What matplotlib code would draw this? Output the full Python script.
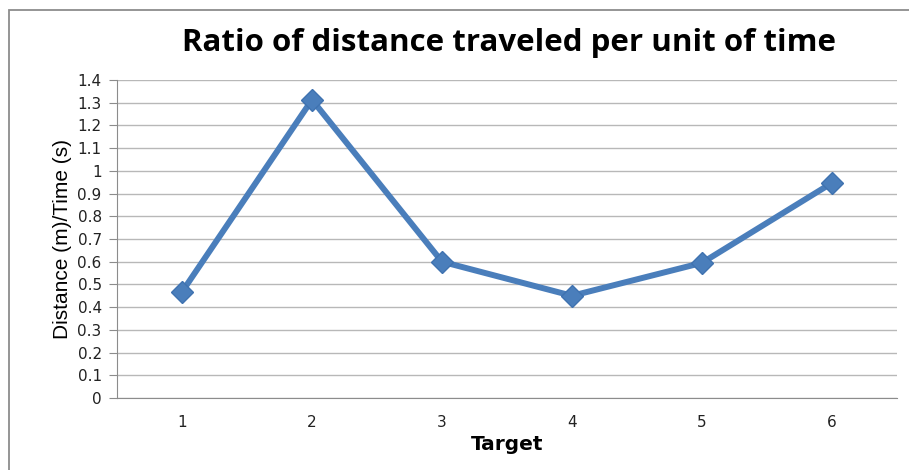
import matplotlib
matplotlib.use("Agg")
import matplotlib.pyplot as plt
from matplotlib.patches import Rectangle

targets = ["1", "2", "3", "4", "5", "6"]
ratio = [0.467, 1.313, 0.60, 0.45, 0.595, 0.947]
yticks = [0, 0.1, 0.2, 0.3, 0.4, 0.5, 0.6, 0.7, 0.8, 0.9, 1, 1.1, 1.2, 1.3, 1.4]
ytick_labels = ["0", "0.1", "0.2", "0.3", "0.4", "0.5", "0.6", "0.7", "0.8",
                "0.9", "1", "1.1", "1.2", "1.3", "1.4"]

W, H = 909, 470
fig = plt.figure(figsize=(W / 100, H / 100), dpi=100)

# chart area border (runs off the right and bottom edges)
fig.add_artist(Rectangle((9 / W, -0.1), 1.2, 1 - 10 / H + 0.1,
                         transform=fig.transFigure, fill=False,
                         edgecolor="#8c8c8c", linewidth=1.3))

ax = fig.add_axes([117 / W, 1 - 398 / H, 780 / W, 318 / H])

x = list(range(len(targets)))
ax.plot(x, ratio, color="#4a7ebb", linewidth=4.3, marker="D",
        markersize=11, markerfacecolor="#4a7ebb", markeredgecolor="#3f72b0",
        solid_joinstyle="miter", zorder=3)

ax.set_xlim(-0.5, len(targets) - 0.5)
ax.set_ylim(0, 1.4)
ax.set_yticks(yticks)
ax.set_yticklabels(ytick_labels)
ax.set_xticks(x)
ax.set_xticklabels(targets)

ax.yaxis.grid(True, color="#b8b8b8", linewidth=1.0)
ax.set_axisbelow(True)
for side in ["top", "right"]:
    ax.spines[side].set_visible(False)
ax.spines["left"].set_color("#8c8c8c")
ax.spines["bottom"].set_color("#8c8c8c")
ax.tick_params(axis="y", direction="out", length=6, color="#8c8c8c",
               labelsize=11, labelcolor="#222222", pad=5)
ax.tick_params(axis="x", length=0, labelsize=11, labelcolor="#222222", pad=12)

ax.set_ylabel("Distance (m)/Time (s)",
              family=["Liberation Sans Narrow", "Liberation Sans"],
              fontsize=15, labelpad=4)
ax.set_xlabel("Target", fontsize=14.5, fontweight="bold", labelpad=4)

fig.text(509 / W, 1 - 43 / H, "Ratio of distance traveled per unit of time",
         ha="center", va="center", fontsize=22.5, fontweight="bold",
         family="Open Sans")

fig.savefig("out.png", dpi=100)
